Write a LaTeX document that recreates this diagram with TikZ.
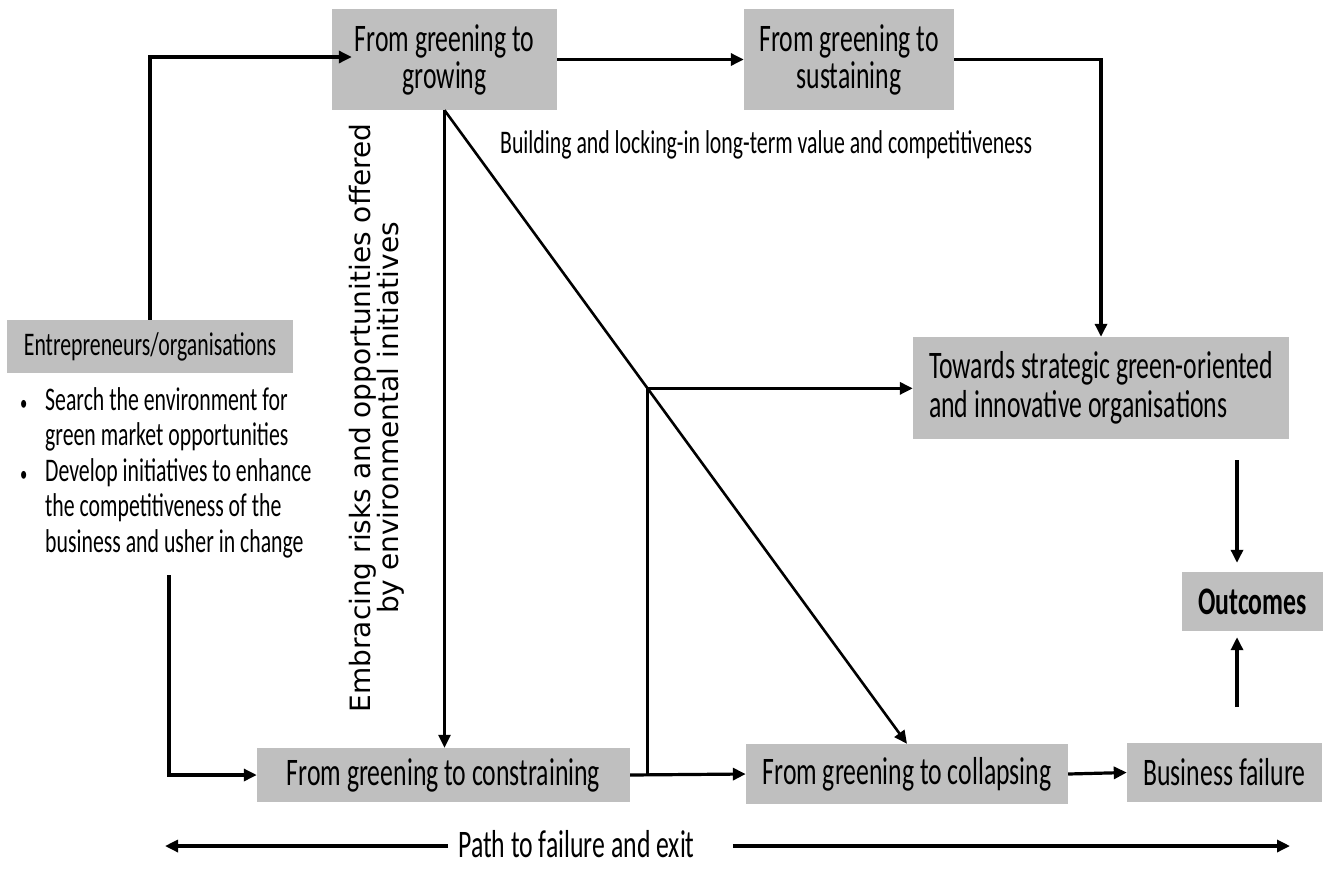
\documentclass[tikz,border=0pt]{standalone}
\usepackage{fontspec}
\setmainfont{Carlito}[FakeStretch=0.66]
\newfontfamily\vertfont{DejaVu Sans}
\usetikzlibrary{arrows.meta,calc}
\definecolor{boxgray}{RGB}{191,191,191}
\begin{document}
\begin{tikzpicture}[x=1pt,y=-1pt,
  box/.style={fill=boxgray, inner sep=0pt, align=center, font=\fontsize{39}{37}\selectfont},
  arr/.style={line width=3.2pt, -{Triangle[length=13pt,width=12pt]}},
  thinarr/.style={line width=2.6pt, -{Triangle[length=13pt,width=12pt]}},
  ln/.style={line width=2.8pt}]
\useasboundingbox (0,0) rectangle (1327,871);
% boxes
\node[box, minimum width=225pt, minimum height=101pt] (grow) at (444.5,59.5) {From greening to\\growing};
\node[box, minimum width=210pt, minimum height=101pt] (sust) at (849,59.5) {From greening to\\sustaining};
\node[box, font=\fontsize{33}{35.5}\selectfont, minimum width=286pt, minimum height=53pt] (entre) at (150,346.5) {Entrepreneurs/organisations};
\node[box, align=left, font=\fontsize{39}{39}\selectfont, minimum width=376pt, minimum height=102pt] (tow) at (1101,388) {Towards strategic green-oriented\\and innovative organisations};
\node[box, font=\bfseries\fontsize{39}{37}\selectfont, minimum width=141pt, minimum height=59pt] (outc) at (1252.5,601.5) {Outcomes};
\node[box, minimum width=373pt, minimum height=54pt] (constr) at (443.5,775) {From greening to constraining};
\node[box, minimum width=322pt, minimum height=60pt] (coll) at (907,774) {From greening to collapsing};
\node[box, minimum width=195pt, minimum height=59pt] (fail) at (1224.5,772.5) {Business failure};
% texts
\node[anchor=north west, inner sep=0pt, align=left, font=\fontsize{33}{35.5}\selectfont] (bul) at (20,387)
 {\makebox[25pt][l]{\fontsize{22}{22}\selectfont•}Search the environment for\\\hspace*{25pt}green market opportunities\\\makebox[25pt][l]{\fontsize{22}{22}\selectfont•}Develop initiatives to enhance\\\hspace*{25pt}the competitiveness of the\\\hspace*{25pt}business and usher in change};
\node[anchor=base west, inner sep=0pt, font=\fontsize{33}{35}\selectfont] (build) at (500,153) {Building and locking-in long-term value and competitiveness};
\node[rotate=90, align=center, inner sep=0pt, font=\vertfont\fontsize{28}{28}\selectfont] (emb) at (376.5,418) {Embracing risks and opportunities offered\\by environmental initiatives};
\node[anchor=base, inner sep=0pt, font=\fontsize{39}{37}\selectfont] (exitlbl) at (576.5,857) {Path to failure and exit};
% connectors
\draw[arr] (entre.north) |- ($(grow.west)+(20,-2.5)$);
\draw[arr] (grow.east) -- (sust.west);
\draw[arr] (sust.east) -| (tow.north);
\draw[thinarr] (grow.south) -- (grow.south |- constr.north);
\draw[thinarr] (grow.south) -- (coll.north);
\path (grow.south) -- (coll.north) coordinate[pos=0.439] (J);
\draw[arr] (J) -- (J -| tow.west);
\draw[arr] (constr.east) -- (coll.west);
\draw[ln] (J) -- (J |- constr.east);
\draw[arr] (coll.east) -- (fail.west);
\coordinate (d1) at (1237,460);
\draw[arr, shorten >=9pt] (d1) -- (d1 |- outc.north);
\coordinate (u1) at (1237,707);
\draw[arr, shorten >=6pt] (u1) -- (u1 |- outc.south);
\coordinate (b1) at (169,575);
\draw[arr] (b1) |- (constr.west);
\coordinate (pl) at (165,846);
\coordinate (pr) at (1290,846);
\draw[arr] ([xshift=-10pt]exitlbl.west |- pl) -- (pl);
\draw[arr] ([xshift=38pt]exitlbl.east |- pr) -- (pr);
\end{tikzpicture}
\end{document}
